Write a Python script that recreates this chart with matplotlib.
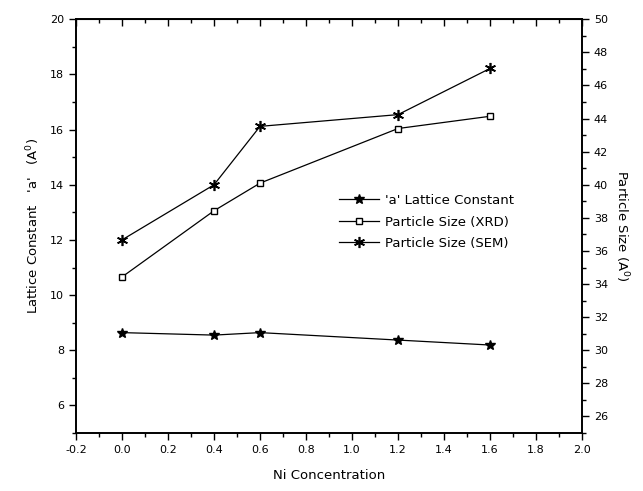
import matplotlib
matplotlib.use("Agg")
import matplotlib.pyplot as plt
from matplotlib.ticker import MultipleLocator

ni = [0.0, 0.4, 0.6, 1.2, 1.6]
lattice_a = [8.64, 8.55, 8.64, 8.37, 8.19]
size_xrd = [34.43, 38.43, 40.1, 43.4, 44.14]
size_sem = [36.67, 40.0, 43.53, 44.24, 47.03]

plt.rcParams["font.family"] = ["DejaVu Sans"]
plt.rcParams["axes.unicode_minus"] = False
fs = 8

fig = plt.figure(figsize=(6.43, 4.91), dpi=100)
ax = fig.add_axes([0.1182, 0.1181, 0.787, 0.8426])
ax2 = ax.twinx()

l1, = ax.plot(ni, lattice_a, color="black", lw=0.9, marker="*", ms=7,
              label="'a' Lattice Constant")
l2, = ax2.plot(ni, size_xrd, color="black", lw=0.9, marker="s", ms=5,
               mfc="white", mew=1.0, label="Particle Size (XRD)")
l3, = ax2.plot(ni, size_sem, color="black", lw=0.9, marker=(6, 2, 0), ms=8,
               mew=1.2, label="Particle Size (SEM)")

ax.set_xlim(-0.2, 2.0)
ax.set_ylim(5, 20)
ax2.set_ylim(25, 50)

ax.xaxis.set_major_locator(MultipleLocator(0.2))
ax.xaxis.set_minor_locator(MultipleLocator(0.1))
ax.yaxis.set_minor_locator(MultipleLocator(1))
ax2.yaxis.set_minor_locator(MultipleLocator(1))
ax.set_yticks(range(6, 21, 2))
ax2.set_yticks(range(26, 51, 2))

for a in (ax, ax2):
    a.tick_params(which="both", direction="out", labelsize=fs, width=1)
    a.tick_params(which="major", length=5)
    a.tick_params(which="minor", length=3)
    for s in a.spines.values():
        s.set_linewidth(1.2)

# top axis: inward ticks, no labels
top = ax.secondary_xaxis("top")
top.xaxis.set_major_locator(MultipleLocator(0.2))
top.xaxis.set_minor_locator(MultipleLocator(0.1))
top.tick_params(which="both", direction="in", labeltop=False, width=1)
top.tick_params(which="major", length=5)
top.tick_params(which="minor", length=3)

ax.set_xlabel("Ni Concentration", fontsize=9.5, labelpad=10)
ax.set_ylabel("Lattice Constant   'a'   (A$^0$)", fontsize=9.5, labelpad=6)
ax2.set_ylabel("Particle Size (A$^0$)", fontsize=9.5, rotation=-90, labelpad=16)

ax.legend(handles=[l1, l2, l3], loc="center left", bbox_to_anchor=(0.52, 0.51),
          frameon=False, fontsize=9.5, handlelength=3.0, handletextpad=0.5,
          labelspacing=0.65, borderaxespad=0, borderpad=0)

fig.savefig("out.png", dpi=100)
